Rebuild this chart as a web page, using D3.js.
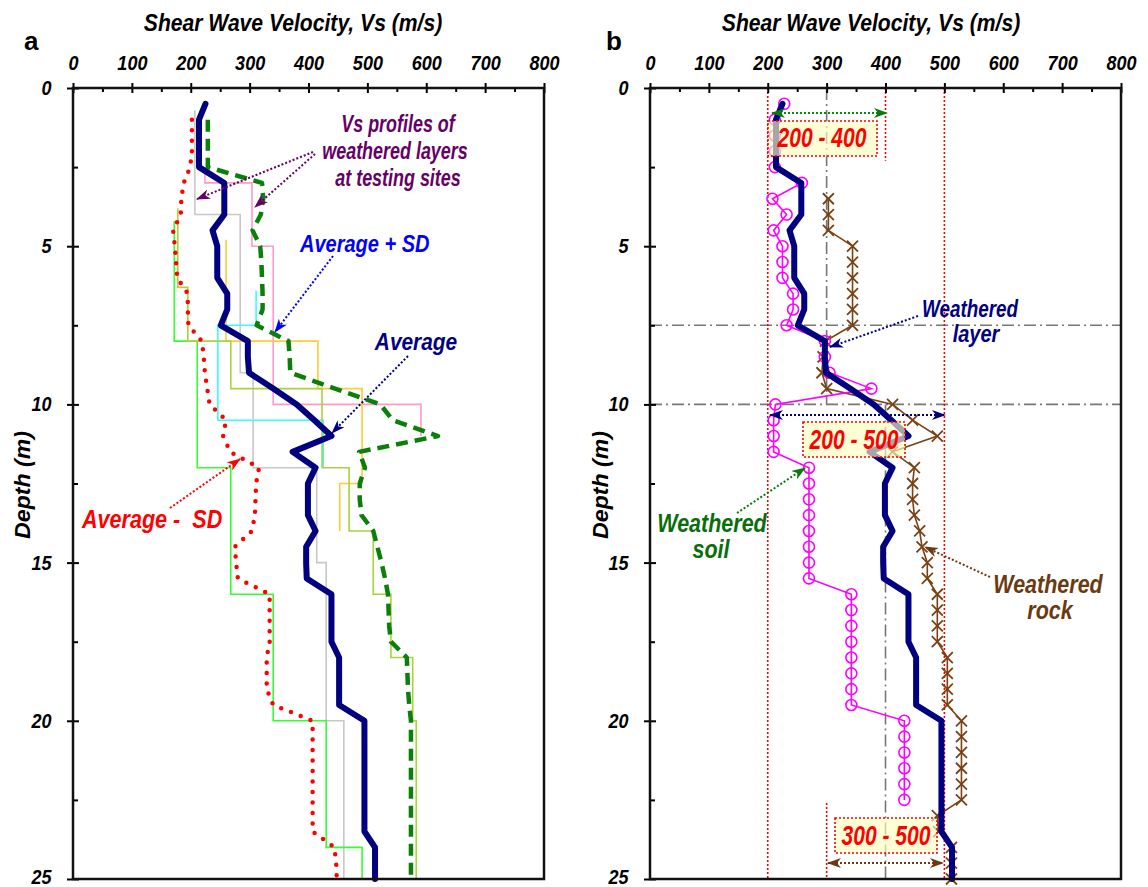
<!DOCTYPE html>
<html>
<head>
<meta charset="utf-8">
<script src="https://cdnjs.cloudflare.com/ajax/libs/d3/7.8.5/d3.min.js"></script>
<style>
  body { margin: 0; background: #fff; }
  text { white-space: pre; }
</style>
</head>
<body>
<div id="chart"></div>
<script>
// ---- data (Vs in m/s, depth in m) ----
const xMajor = [0, 100, 200, 300, 400, 500, 600, 700, 800];
const xMinor = [50, 150, 250, 350, 450, 550, 650, 750];
const yMajor = [0, 5, 10, 15, 20, 25];
const yMinor = [2.5, 7.5, 12.5, 17.5, 22.5];

// average profile (both panels)
const avgDepth = [0.5, 1, 1.5, 2, 2.5, 3, 3.5, 4, 4.5, 5, 5.5, 6, 6.5, 7, 7.5, 8, 8.5, 9, 9.5, 10,
  10.5, 11, 11.5, 12, 12.5, 13, 13.5, 14, 14.5, 15, 15.5, 16, 16.5, 17, 17.5, 18, 18.5, 19, 19.5, 20,
  20.5, 21, 21.5, 22, 22.5, 23, 23.5, 24, 24.5, 25];
const avgVs = [225, 214, 214, 214, 214, 257, 257, 257, 237, 245, 245, 245, 262, 262, 251, 297, 297, 299, 340, 380,
  410, 439, 373, 412, 399, 399, 399, 412, 396, 396, 397, 439, 439, 439, 439, 452, 452, 452, 452, 495,
  495, 495, 495, 495, 495, 495, 495, 513, 513, 513];

// average +/- SD (panel a)
const sdDepth = [1, 1.5, 2, 2.5, 3, 3.5, 4, 4.5, 5, 5.5, 6, 6.5, 7, 7.5, 8, 8.5, 9, 9.5, 10, 10.5,
  11, 11.5, 12, 12.5, 13, 13.5, 14, 14.5, 15, 15.5, 16, 16.5, 17, 17.5, 18, 18.5, 19, 19.5, 20, 20.5,
  21, 21.5, 22, 22.5, 23, 23.5, 24, 24.5, 25];
const plusVs = [229, 229, 229, 229, 321, 323, 319, 305, 318, 320, 321, 322, 322, 312, 366, 368, 369, 445, 522, 543,
  620, 486, 496, 487, 487, 490, 510, 517, 524, 530, 535, 536, 537, 540, 567, 568, 569, 571, 574, 574,
  574, 574, 574, 574, 574, 574, 574, 574, 574];
const minusVs = [202, 202, 202, 199, 188, 184, 183, 170, 173, 175, 177, 195, 195, 196, 219, 222, 224, 228, 232, 260,
  255, 267, 316, 311, 310, 309, 304, 275, 277, 280, 334, 334, 334, 334, 329, 329, 329, 340, 407, 407,
  407, 407, 407, 407, 407, 407, 444, 447, 448];

// individual site profiles (layer boundaries, layer Vs)
const grayDepth = [0.7, 4, 9, 12, 15, 20, 25];
const grayVs = [207, 284, 306, 414, 430, 460];
const pinkDepth = [2.5, 3, 5, 10, 11];
const pinkVs = [224, 304, 340, 591];
const yellowDepth = [4.8, 8, 9.5, 12.5, 14];
const yellowVs = [260, 416, 491, 453];
const cyanDepth = [6.4, 7.5, 10.5, 12];
const cyanVs = [311, 246, 425];
const greenDepth = [4.2, 8, 12, 16, 20, 24, 25];
const greenVs = [172, 211, 268, 340, 430, 491];
const ygDepth = [3.8, 6.3, 8, 9.5, 12, 14, 16, 18, 20, 25];
const ygVs = [178, 195, 268, 423, 469, 510, 540, 577, 583];

// panel b: weathered soil and weathered rock
const soilDepth = [0.5, 1, 1.5, 2, 2.5, 3, 3.5, 4, 4.5, 5, 5.5, 6, 6.5, 7, 7.5, 8, 8.5, 9, 9.5, 10,
  10.5, 11, 11.5, 12, 12.5, 13, 13.5, 14, 14.5, 15, 15.5, 16, 16.5, 17, 17.5, 18, 18.5, 19, 19.5, 20,
  20.5, 21, 21.5, 22, 22.5];
const soilVs = [228, 212, 212, 212, 212, 258, 208, 232, 210, 225, 225, 225, 243, 243, 232, 297, 297, 305, 376, 213,
  210, 210, 210, 270, 270, 270, 270, 270, 270, 270, 270, 342, 342, 342, 342, 342, 342, 342, 342, 432,
  432, 432, 432, 432, 432];
const rockDepth = [3.5, 4, 4.5, 5, 5.5, 6, 6.5, 7, 7.5, 8, 8.5, 9, 9.5, 10, 10.5, 11, 11.5, 12, 12.5, 13,
  13.5, 14, 14.5, 15, 15.5, 16, 16.5, 17, 17.5, 18, 18.5, 19, 19.5, 20, 20.5, 21, 21.5, 22, 22.5, 23,
  23.5, 24, 24.5, 25];
const rockVs = [303, 303, 303, 344, 344, 344, 344, 344, 344, 298, 294, 292, 300, 412, 446, 488, 412, 449, 446, 446,
  449, 458, 462, 471, 471, 488, 488, 488, 488, 505, 505, 505, 505, 529, 529, 529, 529, 529, 529, 488,
  490, 512, 512, 512];

// ---- layout ----
const plotTop = 88, pw = 471, ph = 791;
const font = "'Liberation Sans', Arial, sans-serif";

const svg = d3.select("#chart")
    .append("svg")
    .attr("width", 1148)
    .attr("height", 887);

// arrow heads
const defs = svg.append("defs");
function marker(id, color) {
    defs.append("marker")
        .attr("id", id)
        .attr("viewBox", "0 0 14 10")
        .attr("refX", 13).attr("refY", 5)
        .attr("markerWidth", 14).attr("markerHeight", 10)
        .attr("markerUnits", "userSpaceOnUse")
        .attr("orient", "auto-start-reverse")
        .append("path")
        .attr("d", "M0,0 L14,5 L0,10 L4,5 Z")
        .attr("fill", color);
}
marker("m-purple", "#660066");
marker("m-blue", "#0000ff");
marker("m-navy", "#000080");
marker("m-red", "#ff0000");
marker("m-green", "#0a7a0a");
marker("m-brown", "#6b3a10");

function label(x, y, txt, o) {
    svg.append("text")
        .attr("transform", `translate(${x},${y}) rotate(${o.rot || 0}) scale(${o.sx || 0.9},1)`)
        .attr("text-anchor", o.anchor || "middle")
        .attr("font-family", font)
        .attr("font-weight", "bold")
        .attr("font-style", o.italic === false ? "normal" : "italic")
        .attr("font-size", o.fs)
        .attr("fill", o.fill || "#000")
        .text(txt);
}

function arrow(x1, y1, x2, y2, color, id, both) {
    svg.append("line")
        .attr("x1", x1).attr("y1", y1).attr("x2", x2).attr("y2", y2)
        .attr("stroke", color)
        .attr("stroke-width", 2)
        .attr("stroke-dasharray", "2,2")
        .attr("marker-end", `url(#${id})`)
        .attr("marker-start", both ? `url(#${id})` : null);
}

function makePanel(left) {
    const g = svg.append("g").attr("transform", `translate(${left},${plotTop})`);
    const x = d3.scaleLinear().domain([0, 800]).range([0, pw]);
    const y = d3.scaleLinear().domain([0, 25]).range([0, ph]);
    return {g, x, y};
}

function drawAxes(p) {
    const {g, x, y} = p;
    const axes = g.append("g");
    axes.append("g").call(d3.axisTop(x).tickValues(xMajor).tickSize(5).tickPadding(13).tickFormat(d3.format("d")));
    axes.append("g").call(d3.axisTop(x).tickValues(xMajor).tickSize(-5).tickFormat(""));
    axes.append("g").call(d3.axisTop(x).tickValues(xMinor).tickSize(-4).tickFormat(""));
    const yl = axes.append("g").call(d3.axisLeft(y).tickValues(yMajor).tickSize(6).tickPadding(18).tickFormat(d3.format("d")));
    axes.append("g").call(d3.axisLeft(y).tickValues(yMajor).tickSize(-6).tickFormat(""));
    axes.append("g").call(d3.axisLeft(y).tickValues(yMinor).tickSize(-5).tickFormat(""));
    axes.selectAll(".domain").remove();
    axes.selectAll(".tick line").attr("stroke", "#000").attr("stroke-width", 2);
    axes.selectAll(".tick text")
        .attr("font-family", font)
        .attr("font-weight", "bold")
        .attr("font-style", "italic")
        .attr("font-size", 20)
        .attr("fill", "#000")
        .attr("transform", "scale(0.9,1)");
    // keep the bottom label inside the picture
    yl.selectAll(".tick text").filter(d => d === 25).attr("dy", "0.2em");
    g.append("rect")
        .attr("width", pw).attr("height", ph)
        .attr("fill", "none")
        .attr("stroke", "#111")
        .attr("stroke-width", 2.5);
}

function stepPoints(depths, vals) {
    const pts = [];
    vals.forEach((v, i) => {
        pts.push([v, depths[i]], [v, depths[i + 1]]);
    });
    return pts;
}

function pairs(depths, vals) {
    return vals.map((v, i) => [v, depths[i]]);
}

// ================= panel a =================
const pa = makePanel(73);
{
    const {g, x, y} = pa;
    const line = d3.line().x(d => x(d[0])).y(d => y(d[1]));

    const profiles = [
        [grayDepth, grayVs, "#c8c8c8"],
        [pinkDepth, pinkVs, "#ff99cc"],
        [yellowDepth, yellowVs, "#ffcc33"],
        [cyanDepth, cyanVs, "#33ffff"],
        [greenDepth, greenVs, "#33ff33"],
        [ygDepth, ygVs, "#aad23c"]
    ];
    profiles.forEach(([dep, vs, col]) => {
        g.append("path")
            .datum(stepPoints(dep, vs))
            .attr("d", line)
            .attr("fill", "none")
            .attr("stroke", col)
            .attr("stroke-width", 1.6);
    });

    g.append("path")
        .datum(pairs(sdDepth, minusVs))
        .attr("d", line)
        .attr("fill", "none")
        .attr("stroke", "#ff0000")
        .attr("stroke-width", 4.5)
        .attr("stroke-linecap", "round")
        .attr("stroke-dasharray", "0,10.5");

    g.append("path")
        .datum(pairs(sdDepth, plusVs))
        .attr("d", line)
        .attr("fill", "none")
        .attr("stroke", "#0a800a")
        .attr("stroke-width", 4.5)
        .attr("stroke-linejoin", "round")
        .attr("stroke-dasharray", "12,7");

    g.append("path")
        .datum(pairs(avgDepth, avgVs))
        .attr("d", line)
        .attr("fill", "none")
        .attr("stroke", "#000080")
        .attr("stroke-width", 6)
        .attr("stroke-linejoin", "round")
        .attr("stroke-linecap", "round");

    drawAxes(pa);
}

// ================= panel b =================
const pb = makePanel(650);
{
    const {g, x, y} = pb;
    const line = d3.line().x(d => x(d[0])).y(d => y(d[1]));

    // reference lines
    const dashDot = "12,4,2,4";
    [7.5, 10].forEach(d => {
        g.append("line")
            .attr("x1", 0).attr("x2", pw).attr("y1", y(d)).attr("y2", y(d))
            .attr("stroke", "#777").attr("stroke-width", 1.6).attr("stroke-dasharray", dashDot);
    });
    g.append("line")
        .attr("x1", x(300)).attr("x2", x(300)).attr("y1", y(0)).attr("y2", y(10))
        .attr("stroke", "#777").attr("stroke-width", 1.6).attr("stroke-dasharray", dashDot);
    g.append("line")
        .attr("x1", x(400)).attr("x2", x(400)).attr("y1", y(10)).attr("y2", y(25))
        .attr("stroke", "#777").attr("stroke-width", 1.6).attr("stroke-dasharray", dashDot);

    const redLines = [[200, 0, 25], [500, 0, 25], [400, 0, 2.3], [300, 22.6, 25]];
    redLines.forEach(([v, d0, d1]) => {
        g.append("line")
            .attr("x1", x(v)).attr("x2", x(v)).attr("y1", y(d0)).attr("y2", y(d1))
            .attr("stroke", "#ff0000").attr("stroke-width", 1.6).attr("stroke-dasharray", "2,2");
    });

    // weathered rock
    const rock = pairs(rockDepth, rockVs);
    g.append("path")
        .datum(rock)
        .attr("d", line)
        .attr("fill", "none")
        .attr("stroke", "#7a4214")
        .attr("stroke-width", 1.6);
    g.append("g")
        .selectAll("path")
        .data(rock)
        .join("path")
        .attr("transform", d => `translate(${x(d[0])},${y(d[1])})`)
        .attr("d", "M-5.5,-5.5L5.5,5.5M-5.5,5.5L5.5,-5.5")
        .attr("stroke", "#7a4214")
        .attr("stroke-width", 1.8);

    // weathered soil
    const soil = pairs(soilDepth, soilVs);
    g.append("path")
        .datum(soil)
        .attr("d", line)
        .attr("fill", "none")
        .attr("stroke", "#ff00ff")
        .attr("stroke-width", 1.6);
    g.append("g")
        .selectAll("circle")
        .data(soil)
        .join("circle")
        .attr("cx", d => x(d[0]))
        .attr("cy", d => y(d[1]))
        .attr("r", 5.5)
        .attr("fill", "none")
        .attr("stroke", "#ff00ff")
        .attr("stroke-width", 1.6);

    // average
    g.append("path")
        .datum(pairs(avgDepth, avgVs))
        .attr("d", line)
        .attr("fill", "none")
        .attr("stroke", "#000080")
        .attr("stroke-width", 6)
        .attr("stroke-linejoin", "round")
        .attr("stroke-linecap", "round");

    drawAxes(pb);
}

// range boxes (panel b)
const boxes = [
    [768, 121, 109, 35, "200 - 400", 822, 147],
    [803, 422, 102, 35, "200 - 500", 854, 449],
    [835, 818, 102, 35, "300 - 500", 886, 845]
];
boxes.forEach(([bx, by, bw, bh, txt, tx, ty]) => {
    svg.append("rect")
        .attr("x", bx).attr("y", by).attr("width", bw).attr("height", bh)
        .attr("fill", "#ffffc0").attr("fill-opacity", 0.65)
        .attr("stroke", "#ff0000").attr("stroke-width", 1.6).attr("stroke-dasharray", "2,2");
    label(tx, ty, txt, {fs: 27, sx: 0.78, fill: "#ff0000"});
});
arrow(772, 113, 887, 113, "#0a8a0a", "m-green", true);
arrow(770, 415, 945, 415, "#000080", "m-navy", true);
arrow(828, 863, 943, 863, "#6b3a10", "m-brown", true);

// ---- titles and labels ----
label(293, 31, "Shear Wave Velocity, Vs (m/s)", {fs: 24, sx: 0.88});
label(871, 31, "Shear Wave Velocity, Vs (m/s)", {fs: 24, sx: 0.88});
label(24, 50, "a", {fs: 26, sx: 1, anchor: "start", italic: false});
label(606, 50, "b", {fs: 26, sx: 1, anchor: "start", italic: false});
label(30, 485, "Depth (m)", {fs: 22, sx: 1.05, rot: -90});
label(608, 485, "Depth (m)", {fs: 22, sx: 1.05, rot: -90});

// panel a annotations
label(398, 132, "Vs profiles of", {fs: 23, sx: 0.78, fill: "#660066"});
label(395, 159, "weathered layers", {fs: 23, sx: 0.78, fill: "#660066"});
label(398, 186, "at testing sites", {fs: 23, sx: 0.78, fill: "#660066"});
arrow(313, 152, 197, 199, "#660066", "m-purple");
arrow(315, 154, 255, 207, "#660066", "m-purple");

label(300, 252, "Average + SD", {fs: 23, sx: 0.87, fill: "#0000ff", anchor: "start"});
arrow(333, 256, 275, 332, "#0000ff", "m-blue");

label(416, 350, "Average", {fs: 24, sx: 0.87, fill: "#000080"});
arrow(408, 356, 332, 433, "#000080", "m-navy");

label(82, 528, "Average -  SD", {fs: 26, sx: 0.83, fill: "#ff0000", anchor: "start"});
arrow(170, 508, 240, 459, "#ff0000", "m-red");

// panel b annotations
label(970, 317, "Weathered", {fs: 23, sx: 0.82, fill: "#000080"});
label(976, 342, "layer", {fs: 23, sx: 0.87, fill: "#000080"});
arrow(918, 316, 830, 347, "#000080", "m-navy");

label(712, 532, "Weathered", {fs: 25, sx: 0.86, fill: "#0a6e0a"});
label(711, 558, "soil", {fs: 25, sx: 0.86, fill: "#0a6e0a"});
arrow(737, 513, 805, 468, "#0a7a0a", "m-green");

label(1048, 593, "Weathered", {fs: 25, sx: 0.86, fill: "#6b3a10"});
label(1050, 619, "rock", {fs: 25, sx: 0.86, fill: "#6b3a10"});
arrow(990, 577, 925, 547, "#6b3a10", "m-brown");
</script>
</body>
</html>
